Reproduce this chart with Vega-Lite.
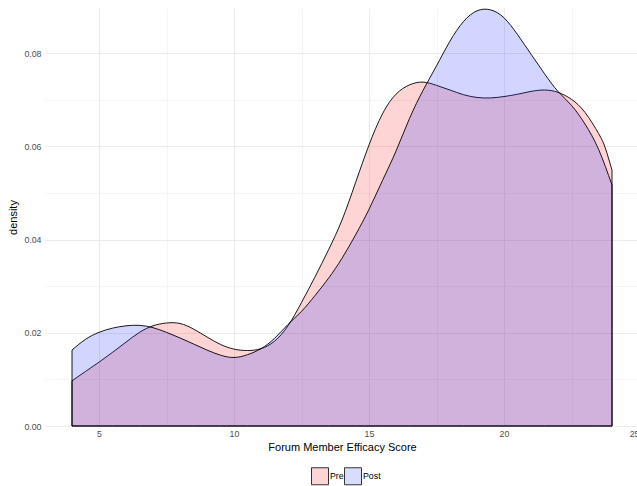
{
  "$schema": "https://vega.github.io/schema/vega-lite/v6.json",
  "autosize": {"type": "none"},
  "padding": {"left": 45, "top": 8, "right": 0, "bottom": 60},
  "width": 594,
  "height": 418,
  "config": {
    "view": {"stroke": null},
    "font": "Liberation Sans",
    "axis": {
      "domain": false,
      "ticks": false,
      "labelFont": "Liberation Sans",
      "labelFontSize": 8.8,
      "labelColor": "#4D4D4D",
      "titleFont": "Liberation Sans",
      "titleFontSize": 11,
      "titleFontWeight": "normal",
      "titleColor": "#000000",
      "gridColor": "#EBEBEB"
    }
  },
  "data": {
    "values": [
      {"group": "Pre", "x": 4, "density": 0.0097},
      {"group": "Pre", "x": 4.5, "density": 0.0117},
      {"group": "Pre", "x": 5, "density": 0.0137},
      {"group": "Pre", "x": 5.5, "density": 0.0158},
      {"group": "Pre", "x": 6, "density": 0.018},
      {"group": "Pre", "x": 6.5, "density": 0.0201},
      {"group": "Pre", "x": 7, "density": 0.0215},
      {"group": "Pre", "x": 7.5, "density": 0.0221},
      {"group": "Pre", "x": 8, "density": 0.022},
      {"group": "Pre", "x": 8.5, "density": 0.0208},
      {"group": "Pre", "x": 9, "density": 0.0191},
      {"group": "Pre", "x": 9.5, "density": 0.0175},
      {"group": "Pre", "x": 10, "density": 0.0165},
      {"group": "Pre", "x": 10.5, "density": 0.0162},
      {"group": "Pre", "x": 11, "density": 0.0166},
      {"group": "Pre", "x": 11.5, "density": 0.0182},
      {"group": "Pre", "x": 12, "density": 0.0215},
      {"group": "Pre", "x": 12.5, "density": 0.0265},
      {"group": "Pre", "x": 13, "density": 0.032},
      {"group": "Pre", "x": 13.5, "density": 0.0378},
      {"group": "Pre", "x": 14, "density": 0.0442},
      {"group": "Pre", "x": 14.5, "density": 0.0522},
      {"group": "Pre", "x": 15, "density": 0.0603},
      {"group": "Pre", "x": 15.5, "density": 0.067},
      {"group": "Pre", "x": 16, "density": 0.0712},
      {"group": "Pre", "x": 16.5, "density": 0.0732},
      {"group": "Pre", "x": 17, "density": 0.0738},
      {"group": "Pre", "x": 17.5, "density": 0.0731},
      {"group": "Pre", "x": 18, "density": 0.0721},
      {"group": "Pre", "x": 18.5, "density": 0.0711},
      {"group": "Pre", "x": 19, "density": 0.0705},
      {"group": "Pre", "x": 19.5, "density": 0.0704},
      {"group": "Pre", "x": 20, "density": 0.0707},
      {"group": "Pre", "x": 20.5, "density": 0.0712},
      {"group": "Pre", "x": 21, "density": 0.0718},
      {"group": "Pre", "x": 21.5, "density": 0.0721},
      {"group": "Pre", "x": 22, "density": 0.0716},
      {"group": "Pre", "x": 22.5, "density": 0.0701},
      {"group": "Pre", "x": 23, "density": 0.0673},
      {"group": "Pre", "x": 23.5, "density": 0.0628},
      {"group": "Pre", "x": 23.75, "density": 0.0597},
      {"group": "Pre", "x": 24, "density": 0.0549},
      {"group": "Post", "x": 4, "density": 0.0163},
      {"group": "Post", "x": 4.5, "density": 0.0186},
      {"group": "Post", "x": 5, "density": 0.0201},
      {"group": "Post", "x": 5.5, "density": 0.021},
      {"group": "Post", "x": 6, "density": 0.0215},
      {"group": "Post", "x": 6.5, "density": 0.0216},
      {"group": "Post", "x": 7, "density": 0.0211},
      {"group": "Post", "x": 7.5, "density": 0.0201},
      {"group": "Post", "x": 8, "density": 0.0189},
      {"group": "Post", "x": 8.5, "density": 0.0176},
      {"group": "Post", "x": 9, "density": 0.0163},
      {"group": "Post", "x": 9.5, "density": 0.0152},
      {"group": "Post", "x": 10, "density": 0.0147},
      {"group": "Post", "x": 10.5, "density": 0.0153},
      {"group": "Post", "x": 11, "density": 0.0166},
      {"group": "Post", "x": 11.5, "density": 0.0188},
      {"group": "Post", "x": 12, "density": 0.0218},
      {"group": "Post", "x": 12.5, "density": 0.0246},
      {"group": "Post", "x": 13, "density": 0.028},
      {"group": "Post", "x": 13.5, "density": 0.0317},
      {"group": "Post", "x": 14, "density": 0.036},
      {"group": "Post", "x": 14.5, "density": 0.041},
      {"group": "Post", "x": 15, "density": 0.0465},
      {"group": "Post", "x": 15.5, "density": 0.0527},
      {"group": "Post", "x": 16, "density": 0.059},
      {"group": "Post", "x": 16.5, "density": 0.066},
      {"group": "Post", "x": 17, "density": 0.072},
      {"group": "Post", "x": 17.5, "density": 0.0773},
      {"group": "Post", "x": 18, "density": 0.0826},
      {"group": "Post", "x": 18.5, "density": 0.0868},
      {"group": "Post", "x": 19, "density": 0.0891},
      {"group": "Post", "x": 19.5, "density": 0.0893},
      {"group": "Post", "x": 20, "density": 0.0876},
      {"group": "Post", "x": 20.5, "density": 0.084},
      {"group": "Post", "x": 21, "density": 0.0798},
      {"group": "Post", "x": 21.5, "density": 0.0756},
      {"group": "Post", "x": 22, "density": 0.0718},
      {"group": "Post", "x": 22.5, "density": 0.0688},
      {"group": "Post", "x": 23, "density": 0.0648},
      {"group": "Post", "x": 23.5, "density": 0.0594},
      {"group": "Post", "x": 24, "density": 0.0517}
    ]
  },
  "encoding": {
    "x": {
      "field": "x",
      "type": "quantitative",
      "scale": {"domain": [3, 25], "nice": false, "zero": false},
      "axis": {
        "title": "Forum Member Efficacy Score",
        "values": [5, 7.5, 10, 12.5, 15, 17.5, 20, 22.5, 25],
        "labelExpr": "datum.value % 5 === 0 ? datum.label : ''",
        "labelPadding": 3,
        "titlePadding": 4,
        "gridWidth": {"condition": {"test": "datum.value % 5 === 0", "value": 1}, "value": 0.5}
      }
    },
    "y": {
      "field": "density",
      "type": "quantitative",
      "stack": null,
      "scale": {"domain": [0, 0.0897], "nice": false},
      "axis": {
        "title": "density",
        "values": [0, 0.01, 0.02, 0.03, 0.04, 0.05, 0.06, 0.07, 0.08],
        "format": ".2f",
        "labelExpr": "round(datum.value * 100) % 2 === 0 ? datum.label : ''",
        "labelPadding": 4,
        "titlePadding": 5,
        "gridWidth": {"condition": {"test": "round(datum.value * 100) % 2 === 0", "value": 1}, "value": 0.5}
      }
    },
    "fill": {
      "field": "group",
      "type": "nominal",
      "scale": {"domain": ["Pre", "Post"], "range": ["#FF0000", "#1A2EFF"]},
      "legend": {
        "title": null,
        "orient": "none",
        "direction": "horizontal",
        "legendX": 266,
        "legendY": 459,
        "padding": 0,
        "symbolType": "square",
        "symbolSize": 289,
        "symbolStrokeColor": "#000000",
        "symbolStrokeWidth": 1,
        "labelFontSize": 8.8,
        "labelColor": "#000000",
        "labelOffset": 1,
        "columnPadding": -4,
        "encode": {
          "symbols": {"update": {"fillOpacity": {"value": 0.17}, "stroke": {"value": "#333333"}, "strokeOpacity": {"value": 1}, "opacity": {"value": 1}}}
        }
      }
    }
  },
  "layer": [
    {
      "transform": [{"filter": "datum.group === 'Pre'"}],
      "mark": {"type": "area", "interpolate": "natural", "fillOpacity": 0.17, "stroke": "#000000", "strokeWidth": 0.9}
    },
    {
      "transform": [{"filter": "datum.group === 'Post'"}],
      "mark": {"type": "area", "interpolate": "natural", "fillOpacity": 0.2, "stroke": "#000000", "strokeWidth": 0.9}
    }
  ]
}
